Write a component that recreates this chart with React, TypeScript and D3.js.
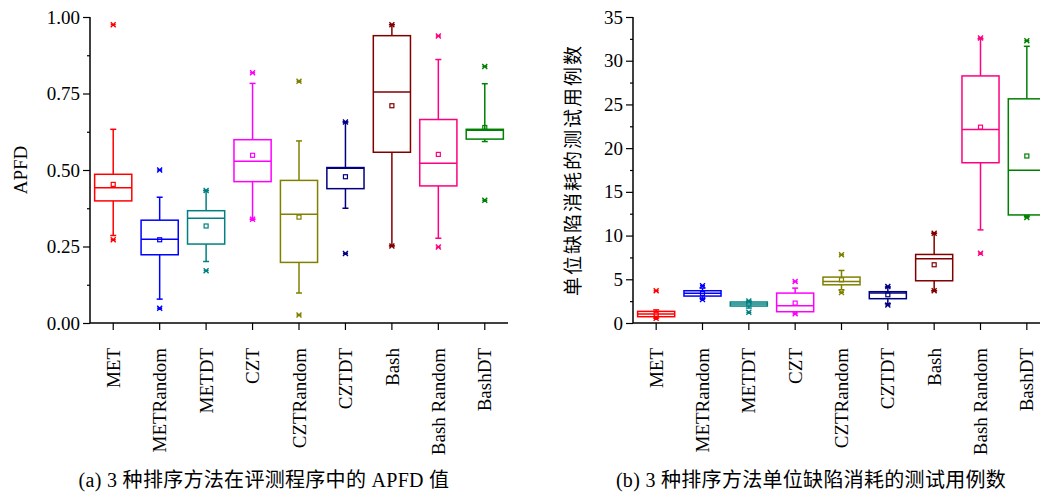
import React, { useEffect, useRef } from "react";
import * as d3 from "d3";

// categories and colours shared by both panels
const categories = ["MET", "METRandom", "METDT", "CZT", "CZTRandom", "CZTDT", "Bash", "Bash Random", "BashDT"];
const colors = ["#ff0000", "#0000ff", "#008080", "#ff00ff", "#808000", "#000080", "#800000", "#ff0080", "#008000"];

// (a) APFD
const apfdWhiskerLow = [0.286, 0.078, 0.201, 0.339, 0.098, 0.375, 0.252, 0.277, 0.593];
const apfdQ1 = [0.399, 0.223, 0.258, 0.462, 0.198, 0.439, 0.558, 0.448, 0.601];
const apfdMedian = [0.442, 0.274, 0.342, 0.529, 0.355, 0.506, 0.755, 0.522, 0.63];
const apfdQ3 = [0.486, 0.336, 0.367, 0.599, 0.466, 0.508, 0.939, 0.665, 0.633];
const apfdWhiskerHigh = [0.633, 0.411, 0.433, 0.783, 0.595, 0.657, 0.975, 0.861, 0.782];
const apfdMean = [0.453, 0.272, 0.317, 0.548, 0.346, 0.478, 0.71, 0.551, 0.639];
const apfdMin = [0.272, 0.048, 0.171, 0.339, 0.026, 0.227, 0.252, 0.248, 0.401];
const apfdMax = [0.975, 0.5, 0.433, 0.818, 0.79, 0.657, 0.975, 0.938, 0.838];
const apfdTicks = [0, 0.25, 0.5, 0.75, 1];

// (b) test cases per fault
const testWhiskerLow = [0.57, 2.8, 1.71, 1.29, 3.8, 2.2, 3.69, 10.65, 12.2];
const testQ1 = [0.72, 3.08, 1.94, 1.29, 4.37, 2.78, 4.83, 18.33, 12.36];
const testMedian = [1.03, 3.39, 2.17, 1.98, 4.75, 3.42, 7.34, 22.14, 17.46];
const testQ3 = [1.33, 3.69, 2.4, 3.42, 5.25, 3.58, 7.84, 28.26, 25.64];
const testWhiskerHigh = [1.5, 4.0, 2.5, 3.99, 6.01, 4.11, 10.27, 32.52, 31.65];
const testMean = [1.0, 3.39, 2.17, 2.28, 4.94, 3.23, 6.66, 22.4, 19.1];
const testMin = [0.55, 2.7, 1.22, 1.06, 3.5, 2.05, 3.69, 7.99, 12.06];
const testMax = [3.69, 4.26, 2.51, 4.75, 7.8, 4.18, 10.27, 32.6, 32.29];
const testTicks = [0, 5, 10, 15, 20, 25, 30, 35];

const serif = '"Liberation Serif", "Times New Roman", serif';
const cjk = '"Liberation Serif", "Noto Sans CJK SC", serif';

type Panel = {
  left: number;
  right: number;
  ticks: number[];
  fmt: (v: number) => string;
  lo: number[];
  q1: number[];
  med: number[];
  q3: number[];
  hi: number[];
  mean: number[];
  min: number[];
  max: number[];
  yLabel: string;
  yLabelX: number;
  yLabelFont: string;
  yLabelSpacing: number;
  caption: string;
  captionX: number;
};

const top = 17;
const bottom = 323;

function drawPanel(svg: any, p: Panel) {
  const g = svg.append("g");
  const x = d3.scaleBand().domain(categories).range([p.left, p.right]);
  const y = d3
    .scaleLinear()
    .domain([p.ticks[0], p.ticks[p.ticks.length - 1]])
    .range([bottom, top]);
  const bw = x.bandwidth() * 0.8;
  const minor = p.ticks.slice(0, -1).map((t, i) => (t + p.ticks[i + 1]) / 2);

  // y axis
  const yAxis = g.append("g").attr("transform", `translate(${p.left},0)`);
  yAxis.call(d3.axisLeft(y).tickValues(p.ticks).tickSize(7).tickPadding(3).tickFormat(p.fmt as any));
  yAxis.select(".domain").remove();
  yAxis.attr("font-family", serif);
  yAxis.selectAll("text").attr("font-family", serif).attr("font-size", 19).attr("fill", "#000");
  yAxis.selectAll("line").attr("stroke", "#000").attr("stroke-width", 1.2);
  const yMinor = g.append("g").attr("transform", `translate(${p.left},0)`);
  yMinor.call(d3.axisLeft(y).tickValues(minor).tickSize(3).tickFormat(() => ""));
  yMinor.select(".domain").remove();
  yMinor.selectAll("line").attr("stroke", "#000").attr("stroke-width", 1.2);

  // x axis
  const xAxis = g.append("g").attr("transform", `translate(0,${bottom})`);
  xAxis.call(d3.axisBottom(x).tickSize(7).tickFormat(() => ""));
  xAxis.select(".domain").remove();
  xAxis.selectAll("line").attr("stroke", "#000").attr("stroke-width", 1.2);

  g.append("line")
    .attr("x1", p.left).attr("x2", p.left)
    .attr("y1", top).attr("y2", bottom)
    .attr("stroke", "#000").attr("stroke-width", 1.5);
  g.append("line")
    .attr("x1", p.left).attr("x2", p.right)
    .attr("y1", bottom).attr("y2", bottom)
    .attr("stroke", "#000").attr("stroke-width", 1.5);

  // category labels
  g.selectAll(".cat")
    .data(categories)
    .join("text")
    .attr("class", "cat")
    .attr("transform", (d: string) => `translate(${x(d)! + x.bandwidth() / 2},348) rotate(-90)`)
    .attr("text-anchor", "end")
    .attr("dy", "0.35em")
    .attr("font-family", serif)
    .attr("font-size", 19)
    .text((d: string) => d);

  // boxes
  const boxes = g
    .selectAll(".box")
    .data(categories)
    .join("g")
    .attr("class", "box")
    .attr("stroke", (d: string, i: number) => colors[i])
    .attr("fill", "none")
    .attr("stroke-width", 1.5);

  boxes.each(function (this: any, d: string, i: number) {
    const b = d3.select(this);
    const cx = x(d)! + x.bandwidth() / 2;
    b.append("line").attr("x1", cx).attr("x2", cx).attr("y1", y(p.q3[i])).attr("y2", y(p.hi[i]));
    b.append("line").attr("x1", cx).attr("x2", cx).attr("y1", y(p.q1[i])).attr("y2", y(p.lo[i]));
    b.append("line").attr("x1", cx - 3).attr("x2", cx + 3).attr("y1", y(p.hi[i])).attr("y2", y(p.hi[i]));
    b.append("line").attr("x1", cx - 3).attr("x2", cx + 3).attr("y1", y(p.lo[i])).attr("y2", y(p.lo[i]));
    b.append("rect")
      .attr("x", cx - bw / 2)
      .attr("width", bw)
      .attr("y", y(p.q3[i]))
      .attr("height", y(p.q1[i]) - y(p.q3[i]))
      .attr("fill", "#fff");
    b.append("line").attr("x1", cx - bw / 2).attr("x2", cx + bw / 2).attr("y1", y(p.med[i])).attr("y2", y(p.med[i]));
    b.append("rect")
      .attr("x", cx - 2)
      .attr("y", y(p.mean[i]) - 2)
      .attr("width", 4)
      .attr("height", 4)
      .attr("stroke-width", 1.2);
    [p.min[i], p.max[i]].forEach((v) => {
      const yy = y(v);
      b.append("path")
        .attr("d", `M${cx - 2.5},${yy - 2.5}L${cx + 2.5},${yy + 2.5}M${cx - 2.5},${yy + 2.5}L${cx + 2.5},${yy - 2.5}M${cx - 2.5},${yy}L${cx + 2.5},${yy}`)
        .attr("stroke-width", 1.4);
    });
  });

  // axis title
  g.append("text")
    .attr("transform", `translate(${p.yLabelX},${(top + bottom) / 2}) rotate(-90)`)
    .attr("text-anchor", "middle")
    .attr("dy", "0.35em")
    .attr("font-family", p.yLabelFont)
    .attr("font-size", 19)
    .attr("letter-spacing", p.yLabelSpacing)
    .text(p.yLabel);

  // caption
  g.append("text")
    .attr("x", p.captionX)
    .attr("y", 487)
    .attr("text-anchor", "middle")
    .attr("font-family", cjk)
    .attr("font-size", 20)
    .attr("letter-spacing", 0.3)
    .text(p.caption);
}

const App = () => {
  const ref = useRef<SVGSVGElement>(null);

  useEffect(() => {
    const svg = d3.select(ref.current);
    svg.selectAll("*").remove();

    drawPanel(svg, {
      left: 90,
      right: 508,
      ticks: apfdTicks,
      fmt: d3.format(".2f"),
      lo: apfdWhiskerLow,
      q1: apfdQ1,
      med: apfdMedian,
      q3: apfdQ3,
      hi: apfdWhiskerHigh,
      mean: apfdMean,
      min: apfdMin,
      max: apfdMax,
      yLabel: "APFD",
      yLabelX: 20,
      yLabelFont: serif,
      yLabelSpacing: 0,
      caption: "(a) 3 种排序方法在评测程序中的 APFD 值",
      captionX: 264,
    });

    drawPanel(svg, {
      left: 633,
      right: 1050,
      ticks: testTicks,
      fmt: d3.format("d"),
      lo: testWhiskerLow,
      q1: testQ1,
      med: testMedian,
      q3: testQ3,
      hi: testWhiskerHigh,
      mean: testMean,
      min: testMin,
      max: testMax,
      yLabel: "单位缺陷消耗的测试用例数",
      yLabelX: 573,
      yLabelFont: '"Noto Sans CJK SC", sans-serif',
      yLabelSpacing: 2,
      caption: "(b) 3 种排序方法单位缺陷消耗的测试用例数",
      captionX: 811,
    });
  }, []);

  return (
    <svg
      ref={ref}
      width={1040}
      height={495}
      style={{ position: "absolute", left: 0, top: 0, background: "#fff" }}
    />
  );
};

export default App;
